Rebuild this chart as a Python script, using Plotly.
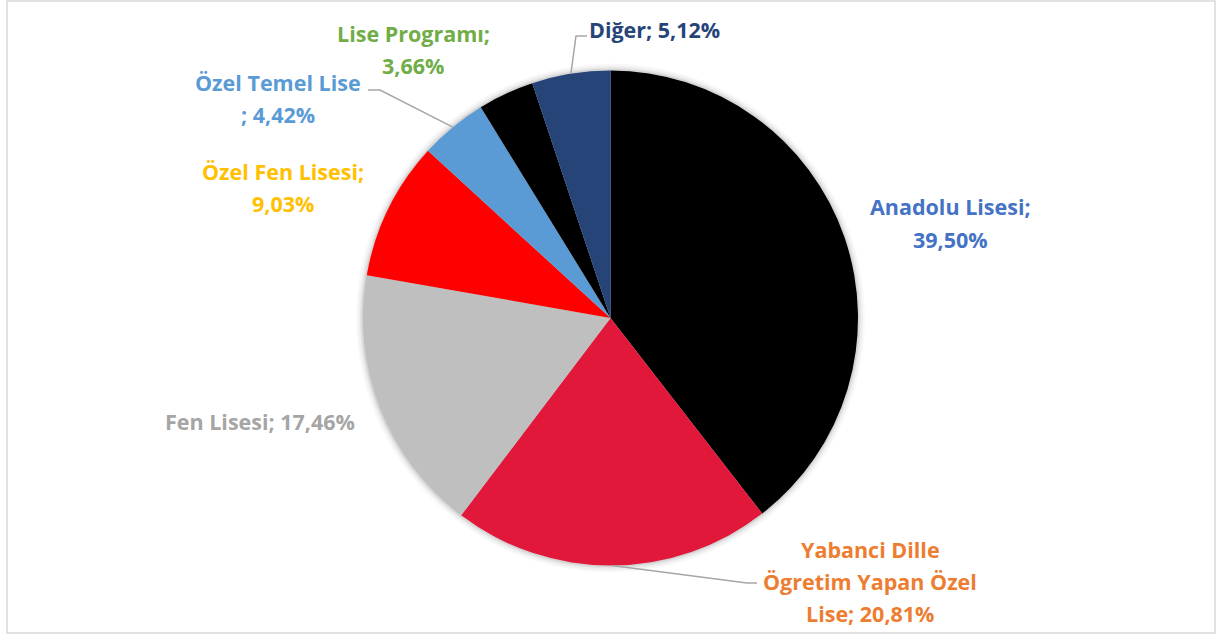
import math
import plotly.graph_objects as go

# ---- data ----
labels = ["Anadolu Lisesi", "Yabanci Dille Ögretim Yapan Özel Lise", "Fen Lisesi",
          "Özel Fen Lisesi", "Özel Temel Lise", "Lise Programı", "Diğer"]
values = [39.50, 20.81, 17.46, 9.03, 4.42, 3.66, 5.12]
value_text = ["39,50%", "20,81%", "17,46%", "9,03%", "4,42%", "3,66%", "5,12%"]
slice_colors = ["#000000", "#E2183A", "#BFBFBF", "#FF0000", "#5B9BD5", "#000000", "#264478"]
label_colors = ["#4472C4", "#ED7D31", "#A5A5A5", "#FFC000", "#5B9BD5", "#70AD47", "#264478"]
label_lines = [
    ["Anadolu Lisesi;", "39,50%"],
    ["Yabanci Dille", "Ögretim Yapan Özel", "Lise; 20,81%"],
    ["Fen Lisesi; 17,46%"],
    ["Özel Fen Lisesi;", "9,03%"],
    ["Özel Temel Lise", "; 4,42%"],
    ["Lise Programı;", "3,66%"],
    ["Diğer; 5,12%"],
]

# ---- layout (pixels) ----
W, H = 1217, 634
CX, CY, R = 610.5, 318.0, 247.5
LINE_GAP = 32
label_pos = [(950, 207), (870, 549), (260, 421), (283, 171), (278, 83), (413, 33), (654, 29)]
# leader lines: index -> list of (x, y) after the slice point
leaders = {
    1: [(747, 583), (757, 583)],
    4: [(380, 90), (368, 90)],
    6: [(576, 36), (587, 36)],
}

def px(x):
    return x / W

def py(y):
    return 1 - y / H

fig = go.Figure()
fig.add_trace(go.Pie(
    labels=labels, values=values, sort=False, direction="clockwise", rotation=0,
    marker=dict(colors=slice_colors, line=dict(width=0)),
    textinfo="none", showlegend=False, hoverinfo="label+percent",
    domain=dict(x=[px(CX - R), px(CX + R)], y=[py(CY + R), py(CY - R)]),
))

annotations = []
for i, lines in enumerate(label_lines):
    x0, y0 = label_pos[i]
    for k, t in enumerate(lines):
        annotations.append(dict(
            x=px(x0), y=py(y0 + k * LINE_GAP), xref="paper", yref="paper",
            text="<b>%s</b>" % t, showarrow=False, xanchor="center", yanchor="middle",
            font=dict(family="Open Sans", size=21.5, color=label_colors[i]),
        ))

shapes = []
# soft shadow around the pie
for d, a in [(7, 0.025), (5, 0.035), (3, 0.05), (1.5, 0.07)]:
    shapes.append(dict(type="circle", xref="paper", yref="paper", layer="below",
                       x0=px(CX - R - d), x1=px(CX + R + d),
                       y0=py(CY + R + d), y1=py(CY - R - d),
                       fillcolor="rgba(0,0,0,%g)" % a, line=dict(width=0)))

total = sum(values)
cum = 0
mids = []
for v in values:
    mids.append((cum + v / 2) / total * 2 * math.pi)
    cum += v
for i, pts in leaders.items():
    a = mids[i]
    sx, sy = CX + R * math.sin(a), CY - R * math.cos(a)
    path_pts = [(sx, sy)] + pts
    path = "M " + " L ".join("%f,%f" % (px(x), py(y)) for x, y in path_pts)
    shapes.append(dict(type="path", xref="paper", yref="paper", path=path,
                       line=dict(color="#A6A6A6", width=1.5)))

# chart border
shapes.append(dict(type="rect", xref="paper", yref="paper",
                   x0=px(7), x1=px(1215), y0=py(633), y1=py(1),
                   line=dict(color="#D9D9D9", width=1.5), fillcolor="rgba(0,0,0,0)"))

fig.update_layout(
    width=W, height=H, margin=dict(l=0, r=0, t=0, b=0),
    paper_bgcolor="white", plot_bgcolor="white",
    annotations=annotations, shapes=shapes, showlegend=False,
)
fig.write_html("out.html", config={"displayModeBar": False},
               post_script="document.body.style.margin='0';document.body.style.overflow='hidden';")
